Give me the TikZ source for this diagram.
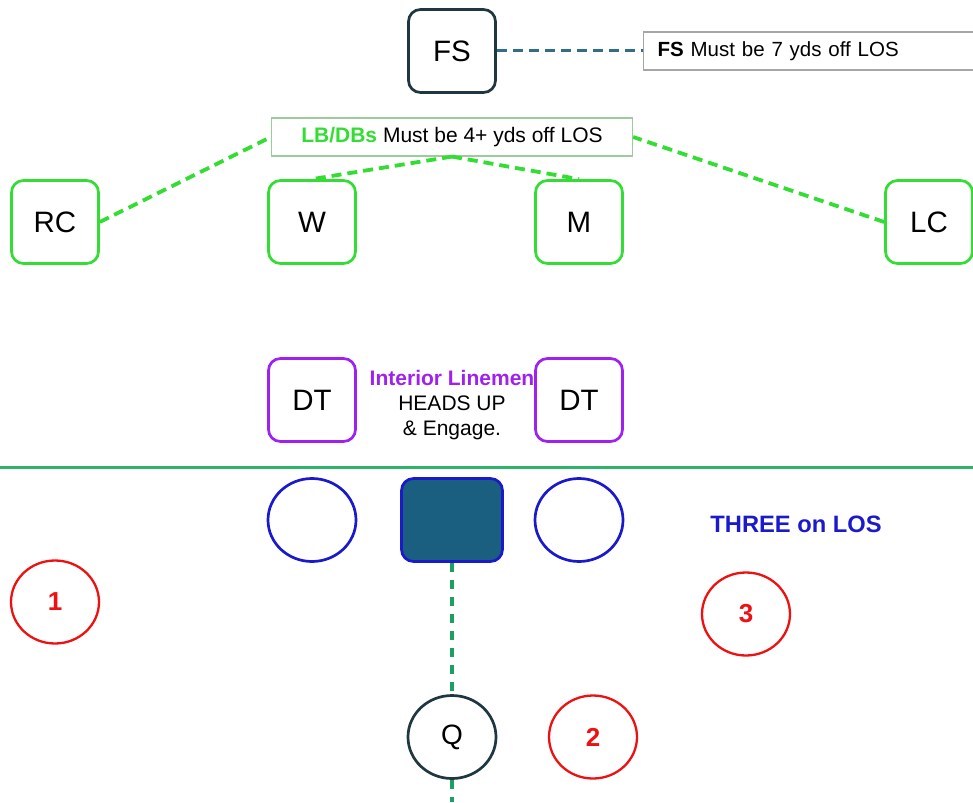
\documentclass[tikz,border=0pt]{standalone}
\usepackage{fontspec}
\setmainfont{Liberation Sans}
\usetikzlibrary{shapes.geometric}
\definecolor{fsdark}{HTML}{1E3740}
\definecolor{fsline}{HTML}{2F6F85}
\definecolor{lbgreen}{HTML}{33DD33}
\definecolor{notegreen}{HTML}{9CCC9C}
\definecolor{dtpurple}{HTML}{A020F0}
\definecolor{olblue}{HTML}{1A1ACC}
\definecolor{centerfill}{HTML}{1A5E80}
\definecolor{losgreen}{HTML}{2DB36A}
\definecolor{qline}{HTML}{1AA060}
\definecolor{rushred}{HTML}{EE1111}
\begin{document}
\begin{tikzpicture}[x=1pt,y=-1pt,
    player/.style={draw, rounded corners=12pt, line width=2.7pt, minimum width=87pt, minimum height=83pt, inner sep=0pt, font=\fontsize{29.5}{32}\selectfont},
    lineman/.style={draw=olblue, ellipse, line width=2.7pt, minimum width=88pt, minimum height=83pt, inner sep=0pt},
    rusher/.style={lineman, draw=rushred, text=rushred, line width=2.3pt, font=\bfseries\fontsize{26}{30}\selectfont},
    note/.style={draw, line width=1.2pt, minimum height=38pt, inner sep=0pt, font=\fontsize{21}{25}\selectfont},
    lbdash/.style={draw=lbgreen, line width=3.8pt, dash pattern=on 10pt off 6pt}]
    \useasboundingbox (0,0) rectangle (973,802);

    % defense
    \node [player, draw=fsdark] (FS) at (452,51) {FS};
    \node [note, draw=black!35, anchor=west, text width=312pt, inner xsep=14pt, align=left, font=\fontsize{20.5}{25}\selectfont] (FSnote) at (643,51) {\textbf{FS} Must be 7 yds off LOS};
    \node [note, draw=notegreen, minimum width=361pt] (LBnote) at (452,137) {\textcolor{lbgreen}{\textbf{LB/DBs}} Must be 4+ yds off LOS};
    \node [player, draw=lbgreen] (RC) at (55,222) {RC};
    \node [player, draw=lbgreen] (W) at (312,222) {W};
    \node [player, draw=lbgreen] (M) at (579,222) {M};
    \node [player, draw=lbgreen] (LC) at (929,222) {LC};
    \node [player, draw=dtpurple] (DTleft) at (312,400) {DT};
    \node [player, draw=dtpurple] (DTright) at (579,400) {DT};
    \node [align=center, inner sep=0pt, font=\fontsize{21}{25}\selectfont] (DTnote) at (452,405) {\textcolor{dtpurple}{\textbf{Interior Linemen}}\\HEADS UP\\\& Engage.};

    \path [draw=fsline, line width=3pt, dash pattern=on 10pt off 6pt] (FS) edge (FSnote);
    \path [lbdash] (RC.east) edge (LBnote.west);
    \path [lbdash] (LC.west) edge (LBnote.east);
    \path [lbdash] (LBnote.south) edge (W.north);
    \path [lbdash] (LBnote.south) edge (M.north);

    % line of scrimmage
    \coordinate (LOSleft) at (0,467);
    \coordinate (LOSright) at (973,467);
    \path [draw=losgreen, line width=3pt] (LOSleft) -- (LOSright);

    % offense
    \node [lineman] (OLleft) at (312,520) {};
    \node [draw=olblue, fill=centerfill, rounded corners=12pt, line width=2.7pt, minimum width=101pt, minimum height=83pt] (C) at (452,520) {};
    \node [lineman] (OLright) at (579,520) {};
    \node [text=olblue, font=\bfseries\fontsize{23.7}{27}\selectfont] (three) at (796,524) {THREE on LOS};
    \node [rusher] (R1) at (55,602) {1};
    \node [rusher] (R3) at (746,614) {3};
    \node [rusher] (R2) at (593,737) {2};
    \node [lineman, draw=fsdark, font=\fontsize{28}{32}\selectfont] (Q) at (452,737) {Q};
    \coordinate (Qend) at (452,802);

    \path [draw=qline, line width=3.2pt, dash pattern=on 9pt off 8pt] (C) edge (Q);
    \path [draw=qline, line width=3.2pt, dash pattern=on 9pt off 8pt] (Q) edge (Qend);
\end{tikzpicture}
\end{document}
